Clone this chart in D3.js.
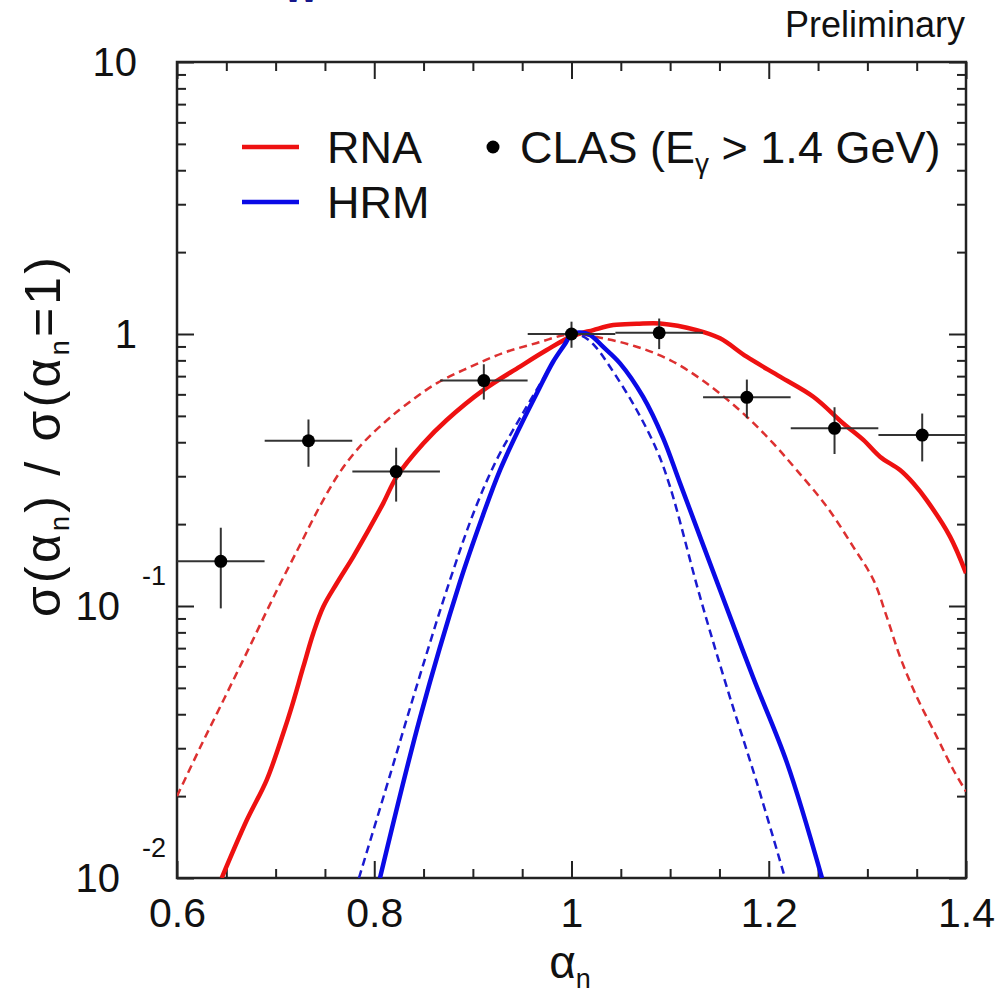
<!DOCTYPE html>
<html>
<head>
<meta charset="utf-8">
<script src="https://cdn.jsdelivr.net/npm/d3@7"></script>
<style>
  body { margin: 0; background: #fff; }
  svg { display: block; }
  text { font-family: "Liberation Sans", Arial, Helvetica, sans-serif; fill: #111; }
</style>
</head>
<body>
<svg id="chart" width="1008" height="996"></svg>
<script>
// ---- axis ticks and labels ----
const xMajorTicks = [0.6, 0.8, 1.0, 1.2, 1.4];
const xTickLabels = ["0.6", "0.8", "1", "1.2", "1.4"];
const yDecadeTicks = [10, 1, 0.1, 0.01];
const yLabelBase = ["10", "1", "10", "10"];
const yLabelExp = ["", "", "-1", "-2"];

// ---- CLAS data (E_gamma > 1.4 GeV), 9 bins in alpha_n ----
const binCenters = [0.6444, 0.7333, 0.8222, 0.9111, 1.0, 1.0889, 1.1778, 1.2667, 1.3556];
const binHalfWidth = 0.0444;
const clasValues = [0.146, 0.405, 0.312, 0.674, 1.0, 1.01, 0.585, 0.450, 0.425];
const clasErrors = [0.048, 0.080, 0.070, 0.100, 0.110, 0.130, 0.095, 0.088, 0.085];

// ---- RNA calculation (solid) ----
const rnaAlpha = [0.6453, 0.6707, 0.6909, 0.7078, 0.7163, 0.7281, 0.7382, 0.7483, 0.7619, 0.7788,
  0.7923, 0.8092, 0.8228, 0.8497, 0.8735, 0.9106, 0.9478, 0.9749, 1.0, 1.0221, 1.0424, 1.066,
  1.0897, 1.127, 1.1506, 1.1776, 1.2114, 1.2452, 1.2756, 1.2959, 1.3128, 1.3331, 1.3466, 1.3601,
  1.3838, 1.4];
const rnaValue = [0.0100, 0.0163, 0.0229, 0.0341, 0.0426, 0.0598, 0.0794, 0.0994, 0.121, 0.152,
  0.185, 0.239, 0.299, 0.396, 0.483, 0.622, 0.759, 0.873, 0.98, 1.034, 1.079, 1.090,
  1.094, 1.034, 0.964, 0.825, 0.697, 0.588, 0.469, 0.408, 0.354, 0.316, 0.2825, 0.245,
  0.180, 0.132];

// ---- RNA calculation (dashed) ----
const rnaDashAlpha = [0.6, 0.6233, 0.6487, 0.674, 0.6994, 0.7247, 0.745, 0.7653, 0.7886, 0.8109,
  0.8292, 0.8636, 0.8971, 0.9305, 0.965, 1.0, 1.0322, 1.066, 1.0999, 1.137, 1.1776, 1.2046,
  1.2283, 1.2588, 1.2857, 1.306, 1.3196, 1.3331, 1.35, 1.3703, 1.3871, 1.4];
const rnaDashValue = [0.0200, 0.0301, 0.0463, 0.0713, 0.1107, 0.1676, 0.2332, 0.311, 0.3975, 0.4748,
  0.539, 0.660, 0.756, 0.851, 0.927, 1.0, 0.964, 0.898, 0.802, 0.659, 0.497, 0.396,
  0.316, 0.232, 0.165, 0.125, 0.0914, 0.0651, 0.0464, 0.0331, 0.025, 0.0208];

// ---- HRM calculation (solid) ----
const hrmAlpha = [0.8058, 0.8464, 0.8869, 0.9103, 0.9275, 0.9478, 0.965, 0.9812, 0.9934, 1.0,
  1.0086, 1.0189, 1.0319, 1.0492, 1.0725, 1.0928, 1.11, 1.1506, 1.184, 1.2185, 1.254];
const hrmValue = [0.01, 0.0388, 0.1225, 0.2161, 0.316, 0.456, 0.607, 0.789, 0.919, 1.0,
  1.013, 0.992, 0.898, 0.780, 0.588, 0.415, 0.283, 0.1145, 0.0548, 0.0265, 0.01];

// ---- HRM calculation (dashed) ----
const hrmDashAlpha = [0.7845, 0.816, 0.8464, 0.8768, 0.9022, 0.9245, 0.9478, 0.9711, 0.9863, 0.9954,
  1.0, 1.005, 1.0137, 1.0238, 1.039, 1.0661, 1.0864, 1.0999, 1.1303, 1.1574, 1.1878, 1.2165];
const hrmDashValue = [0.01, 0.0239, 0.0557, 0.1246, 0.2273, 0.347, 0.491, 0.683, 0.844, 0.943,
  1.0, 1.0, 0.971, 0.903, 0.758, 0.5255, 0.3746, 0.2746, 0.1082, 0.0504, 0.0225, 0.01];

(function draw() {
  // ---- frame geometry ----
  const fLeft = 177, fRight = 966, fTop = 62, fBottom = 878;
  const svg = d3.select("#chart");

  const x = d3.scaleLinear().domain([0.6, 1.4]).range([fLeft, fRight]);
  const y = d3.scaleLog().domain([0.01, 10]).range([fBottom, fTop]);

  const xMinor = d3.range(0.6, 1.4001, 0.05).map(v => +v.toFixed(2))
    .filter(v => !xMajorTicks.some(m => Math.abs(m - v) < 1e-6));
  const yMinor = [];
  [0.01, 0.1, 1].forEach(d => { for (let k = 2; k <= 9; k++) yMinor.push(d * k); });

  const axisColor = "#222";
  function styleAxis(g) {
    g.select(".domain").remove();
    g.selectAll(".tick line").attr("stroke", axisColor).attr("stroke-width", 2);
  }

  // inward ticks on all four sides
  svg.append("g").attr("transform", `translate(0,${fBottom})`)
    .call(d3.axisBottom(x).tickValues(xMinor).tickSize(-9).tickFormat("")).call(styleAxis);
  svg.append("g").attr("transform", `translate(0,${fBottom})`)
    .call(d3.axisBottom(x).tickValues(xMajorTicks).tickSize(-17).tickPadding(20)
      .tickFormat((d, i) => xTickLabels[i]))
    .call(styleAxis)
    .call(g => g.selectAll(".tick text").attr("font-size", 41).attr("fill", "#111")
      .attr("font-family", "Liberation Sans, Arial, sans-serif"));
  svg.append("g").attr("transform", `translate(0,${fTop})`)
    .call(d3.axisTop(x).tickValues(xMinor).tickSize(-9).tickFormat("")).call(styleAxis);
  svg.append("g").attr("transform", `translate(0,${fTop})`)
    .call(d3.axisTop(x).tickValues(xMajorTicks).tickSize(-17).tickFormat("")).call(styleAxis);

  svg.append("g").attr("transform", `translate(${fLeft},0)`)
    .call(d3.axisLeft(y).tickValues(yMinor).tickSize(-9).tickFormat("")).call(styleAxis);
  svg.append("g").attr("transform", `translate(${fLeft},0)`)
    .call(d3.axisLeft(y).tickValues(yDecadeTicks).tickSize(-17).tickFormat("")).call(styleAxis);
  svg.append("g").attr("transform", `translate(${fRight},0)`)
    .call(d3.axisRight(y).tickValues(yMinor).tickSize(-9).tickFormat("")).call(styleAxis);
  svg.append("g").attr("transform", `translate(${fRight},0)`)
    .call(d3.axisRight(y).tickValues(yDecadeTicks).tickSize(-17).tickFormat("")).call(styleAxis);

  // frame
  svg.append("rect").attr("x", fLeft).attr("y", fTop)
    .attr("width", fRight - fLeft).attr("height", fBottom - fTop)
    .attr("fill", "none").attr("stroke", axisColor).attr("stroke-width", 2.5);

  // y tick labels: 10, 1, 10^-1, 10^-2
  const yLab = svg.append("g").attr("font-size", 40);
  yDecadeTicks.forEach((v, i) => {
    const yy = y(v);
    if (yLabelExp[i] === "") {
      yLab.append("text").attr("x", 137).attr("y", yy).attr("dy", "0.36em")
        .attr("text-anchor", "end").text(yLabelBase[i]);
    } else {
      yLab.append("text").attr("x", 120).attr("y", yy).attr("dy", "0.36em")
        .attr("text-anchor", "end").text(yLabelBase[i]);
      yLab.append("text").attr("x", 142).attr("y", yy - 31).attr("dy", "0.36em")
        .attr("font-size", 27).text(yLabelExp[i]);
    }
  });

  // axis titles
  const xt = svg.append("text").attr("x", 570).attr("y", 978)
    .attr("text-anchor", "middle").attr("font-size", 46);
  xt.append("tspan").text("α");
  xt.append("tspan").attr("font-size", 27).attr("dy", 10).text("n");

  const yt = svg.append("text").attr("transform", "translate(60,437) rotate(-90)")
    .attr("text-anchor", "middle").attr("font-size", 50)
    .attr("textLength", 360).attr("lengthAdjust", "spacing");
  yt.append("tspan").text("σ(α");
  yt.append("tspan").attr("font-size", 27).attr("dy", 9).text("n");
  yt.append("tspan").attr("dy", -9).text(") / σ(α");
  yt.append("tspan").attr("font-size", 27).attr("dy", 9).text("n");
  yt.append("tspan").attr("dy", -9).text("=1)");

  // label above the frame
  svg.append("text").attr("x", 965).attr("y", 37).attr("text-anchor", "end")
    .attr("font-size", 36).text("Preliminary");
  // bottom of a heading letter cut by the top edge
  svg.append("text").attr("x", 284).attr("y", 2).attr("font-size", 44).attr("font-weight", "bold")
    .style("fill", "#16168a").text("w");

  // ---- curves ----
  svg.append("clipPath").attr("id", "plotClip").append("rect")
    .attr("x", fLeft).attr("y", fTop).attr("width", fRight - fLeft).attr("height", fBottom - fTop);
  const plot = svg.append("g").attr("clip-path", "url(#plotClip)");

  const line = d3.line().x(d => x(d[0])).y(d => y(d[1])).curve(d3.curveCatmullRom.alpha(0.5));
  const zip = (a, b) => a.map((v, i) => [v, b[i]]);

  plot.append("path").attr("d", line(zip(rnaDashAlpha, rnaDashValue)))
    .attr("fill", "none").attr("stroke", "#dd3030").attr("stroke-width", 2.5).attr("stroke-dasharray", "8,5");
  plot.append("path").attr("d", line(zip(hrmDashAlpha, hrmDashValue)))
    .attr("fill", "none").attr("stroke", "#1a1ad0").attr("stroke-width", 2.5).attr("stroke-dasharray", "8,5");
  plot.append("path").attr("d", line(zip(rnaAlpha, rnaValue)))
    .attr("fill", "none").attr("stroke", "#ee1111").attr("stroke-width", 4.5);
  plot.append("path").attr("d", line(zip(hrmAlpha, hrmValue)))
    .attr("fill", "none").attr("stroke", "#0a0ae6").attr("stroke-width", 4.5);

  // ---- data points with error bars ----
  const pts = plot.append("g");
  binCenters.forEach((c, i) => {
    const v = clasValues[i], e = clasErrors[i];
    pts.append("line").attr("x1", x(c - binHalfWidth)).attr("x2", x(c + binHalfWidth))
      .attr("y1", y(v)).attr("y2", y(v)).attr("stroke", "#333").attr("stroke-width", 2);
    pts.append("line").attr("x1", x(c)).attr("x2", x(c))
      .attr("y1", y(v + e)).attr("y2", y(v - e)).attr("stroke", "#333").attr("stroke-width", 2);
    pts.append("circle").attr("cx", x(c)).attr("cy", y(v)).attr("r", 6.5).attr("fill", "#000");
  });

  // ---- legend ----
  const lg = svg.append("g").attr("font-size", 45);
  lg.append("line").attr("x1", 242).attr("x2", 299).attr("y1", 147).attr("y2", 147)
    .attr("stroke", "#ee1111").attr("stroke-width", 4.5);
  lg.append("text").attr("x", 327).attr("y", 163).text("RNA");
  lg.append("line").attr("x1", 242).attr("x2", 299).attr("y1", 202).attr("y2", 202)
    .attr("stroke", "#0a0ae6").attr("stroke-width", 4.5);
  lg.append("text").attr("x", 327).attr("y", 218).text("HRM");
  lg.append("circle").attr("cx", 493).attr("cy", 147).attr("r", 6.5).attr("fill", "#000");
  const ct = lg.append("text").attr("x", 520).attr("y", 163);
  ct.append("tspan").text("CLAS (E");
  ct.append("tspan").attr("font-size", 28).attr("dy", 10).text("γ");
  ct.append("tspan").attr("dy", -10).text(" > 1.4 GeV)");
})();
</script>
</body>
</html>
